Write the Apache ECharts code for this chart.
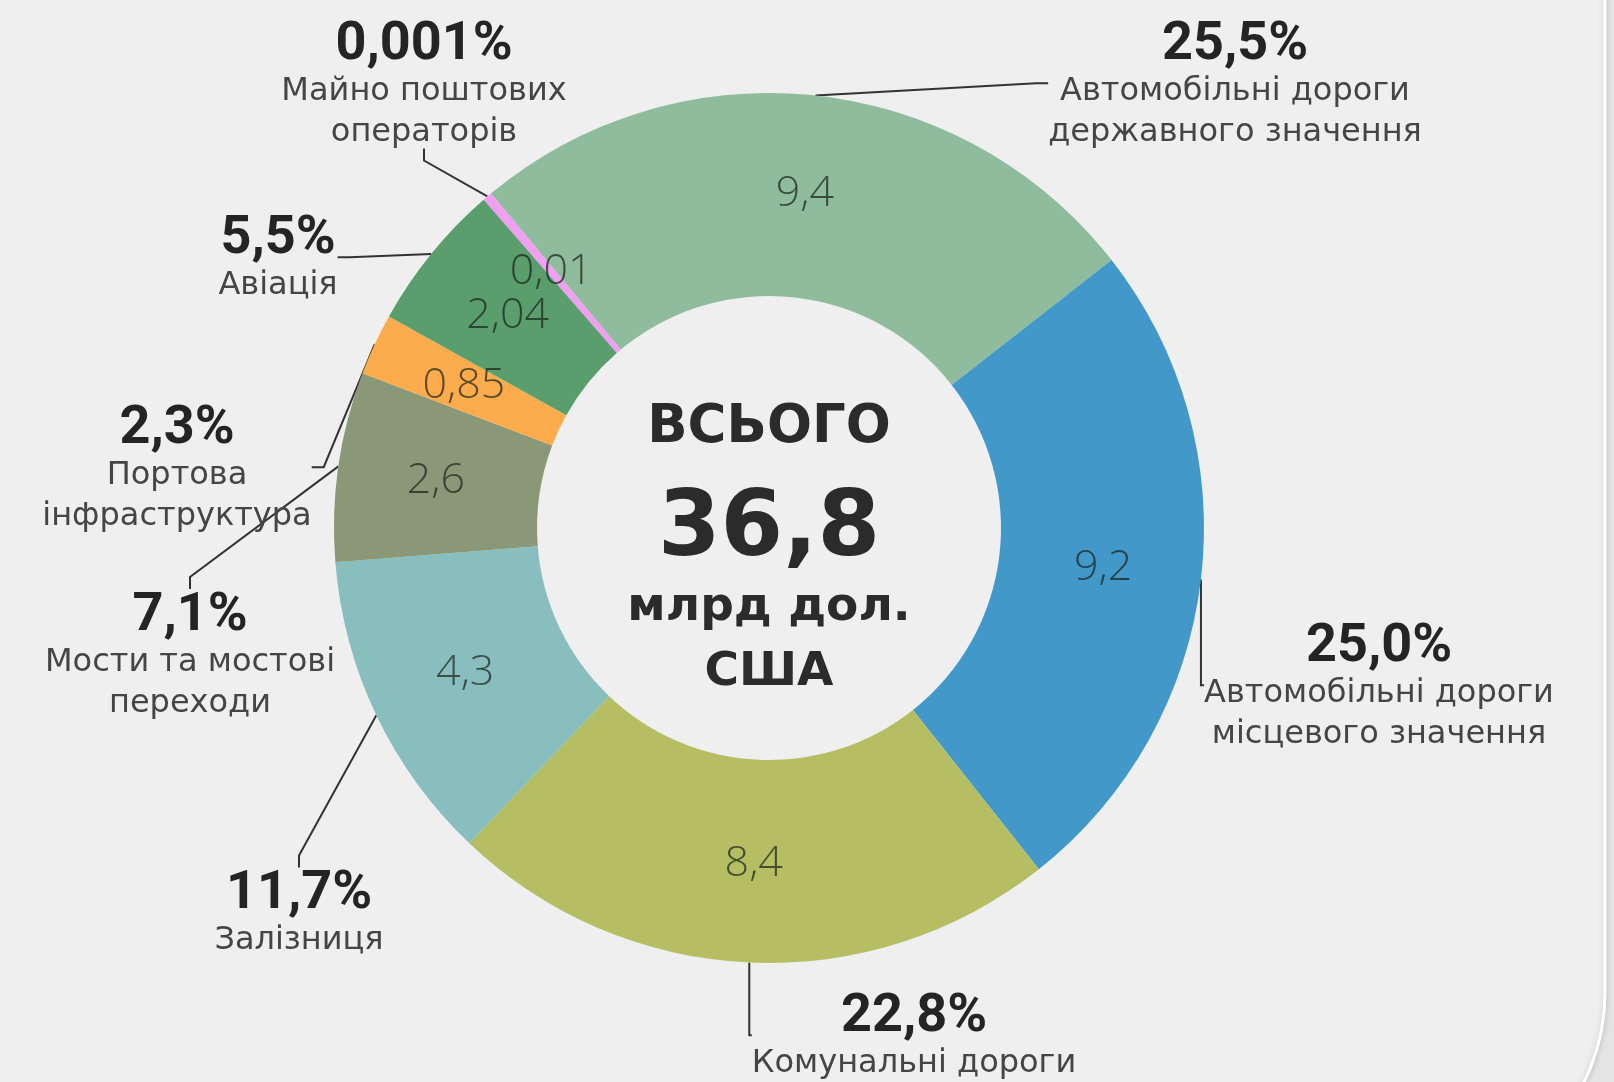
<!DOCTYPE html>
<html>
<head>
<meta charset="utf-8">
<script src="https://cdn.jsdelivr.net/npm/echarts@6/dist/echarts.min.js"></script>
<style>
  html, body { margin: 0; padding: 0; background: #e6e6e6; }
  #chart { width: 1614px; height: 1082px; }
</style>
</head>
<body>
<div id="chart"></div>
<script>
// categories clockwise, starting from the thin pink slice
const categories = [
  "Майно поштових\nоператорів",
  "Автомобільні дороги\nдержавного значення",
  "Автомобільні дороги\nмісцевого значення",
  "Комунальні дороги",
  "Залізниця",
  "Мости та мостові\nпереходи",
  "Портова\nінфраструктура",
  "Авіація"
];
// млрд дол. США
const values = [0.01, 9.4, 9.2, 8.4, 4.3, 2.6, 0.85, 2.04];
const shares = ["0,001%", "25,5%", "25,0%", "22,8%", "11,7%", "7,1%", "2,3%", "5,5%"];
const colors = ["#f0a0f0", "#8fbc9c", "#4299c9", "#b5be62", "#88bebe", "#8a9878", "#fcac4c", "#5a9e6e"];

// where each outer label sits (px)
const labelPos = [
  [424, 86], [1235, 86], [1379, 688], [914, 1038],
  [299, 915], [190, 657], [177, 470], [278, 260]
];

const cx = 769, cy = 528;
const total = values.reduce((a, b) => a + b, 0);
const fmt = (v) => String(v).replace(".", ",");

const chart = echarts.init(document.getElementById("chart"));

const pieBase = {
  type: "pie",
  center: [cx, cy],
  radius: [232, 435],
  startAngle: 131,
  clockwise: true,
  minAngle: 1.3,
  avoidLabelOverlap: false,
  silent: true,
  data: categories.map((c, i) => ({ name: c, value: values[i] }))
};

const option = {
  backgroundColor: "#e4e4e4",
  animation: false,
  color: colors,
  graphic: [
    {
      type: "rect",
      z: -10,
      shape: { x: -60, y: -400, width: 1665, height: 1593, r: 200 },
      style: {
        fill: "#efefef",
        stroke: "#ffffff",
        lineWidth: 3,
        shadowBlur: 6,
        shadowColor: "rgba(0,0,0,0.15)"
      }
    },
    {
      type: "text", x: cx, y: 428, z: 10,
      style: { text: "ВСЬОГО", align: "center", verticalAlign: "middle",
        font: "bold 53px 'DejaVu Sans'", fill: "#2b2b2b" }
    },
    {
      type: "text", x: cx, y: 532, z: 10,
      style: { text: fmt(total.toFixed(1)), align: "center", verticalAlign: "middle",
        font: "bold 90px 'DejaVu Sans'", fill: "#2b2b2b" }
    },
    {
      type: "text", x: cx, y: 608, z: 10,
      style: { text: "млрд дол.", align: "center", verticalAlign: "middle",
        font: "bold 47px 'DejaVu Sans'", fill: "#2b2b2b" }
    },
    {
      type: "text", x: cx, y: 673, z: 10,
      style: { text: "США", align: "center", verticalAlign: "middle",
        font: "bold 47px 'DejaVu Sans'", fill: "#2b2b2b" }
    }
  ],
  series: [
    Object.assign({}, pieBase, {
      name: "values",
      itemStyle: { borderWidth: 0 },
      label: {
        show: true,
        position: "inside",
        formatter: (p) => fmt(p.value),
        fontFamily: "Open Sans",
        fontWeight: 300,
        fontSize: 43,
        color: "rgba(25,35,25,0.72)"
      },
      labelLine: { show: false }
    }),
    Object.assign({}, pieBase, {
      name: "labels",
      itemStyle: { color: "rgba(0,0,0,0)", borderWidth: 0 },
      label: {
        show: true,
        position: "outside",
        formatter: (p) => "{p|" + shares[p.dataIndex] + "}\n{n|" + p.name + "}",
        align: "center",
        rich: {
          p: { fontFamily: "Roboto", fontWeight: "bold", fontSize: 54, lineHeight: 52, color: "#242424", align: "center" },
          n: { fontFamily: "DejaVu Sans", fontSize: 32, lineHeight: 41, color: "#454545", align: "center" }
        }
      },
      labelLine: {
        show: true,
        length: 12,
        length2: 12,
        smooth: false,
        lineStyle: { color: "#333333", width: 2 }
      },
      labelLayout: (params) => ({
        x: labelPos[params.dataIndex][0],
        y: labelPos[params.dataIndex][1],
        align: "center",
        verticalAlign: "middle"
      })
    })
  ]
};

chart.setOption(option);
</script>
</body>
</html>
